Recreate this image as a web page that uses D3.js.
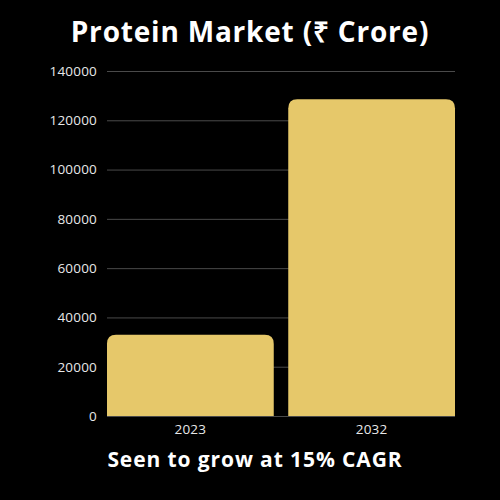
<!DOCTYPE html>
<html><head><meta charset="utf-8">
<script src="https://cdn.jsdelivr.net/npm/d3@7"></script>
<style>html,body{margin:0;padding:0;background:#000;}svg{display:block;}</style>
</head><body>
<svg id="c" width="500" height="500"></svg>
<script>
const categories = ["2023", "2032"];
const values = [33000, 128500];
const yTicks = [0, 20000, 40000, 60000, 80000, 100000, 120000, 140000];
const title = "Protein Market (₹ Crore)";
const subtitle = "Seen to grow at 15% CAGR";

const svg = d3.select("#c");
svg.append("rect").attr("width", 500).attr("height", 500).attr("fill", "#000");

const y = d3.scaleLinear().domain([0, 140000]).range([416, 71]);
const x = d3.scaleBand().domain(categories).range([107, 455]).paddingInner(0.08).paddingOuter(0);

// gridlines
svg.append("g").selectAll("line").data(yTicks).join("line")
  .attr("x1", 107).attr("x2", 455)
  .attr("y1", d => y(d) + 0.5).attr("y2", d => y(d) + 0.5)
  .attr("stroke", "#4a4a4a").attr("stroke-width", 1);

// y axis labels
const yAxis = d3.axisLeft(y).tickValues(yTicks).tickSize(0).tickPadding(0).tickFormat(d3.format("d"));
const gy = svg.append("g").attr("transform", "translate(97,0)").call(yAxis);
gy.select(".domain").remove();
gy.selectAll("text").attr("fill", "#e8e8e8").attr("font-family", "'Open Sans', sans-serif")
  .attr("font-size", 13.5).attr("font-weight", 400).attr("letter-spacing", 0.2);

// bars with rounded top corners
const r = 9;
function barPath(x0, w, yTop, yBot) {
  return `M${x0},${yBot} V${yTop + r} Q${x0},${yTop} ${x0 + r},${yTop} H${x0 + w - r} Q${x0 + w},${yTop} ${x0 + w},${yTop + r} V${yBot} Z`;
}
svg.append("g").selectAll("path").data(categories).join("path")
  .attr("d", (c, i) => barPath(x(c), x.bandwidth(), y(values[i]), y(0)))
  .attr("fill", "#e6c86a");

// x axis labels
const xAxis = d3.axisBottom(x).tickSize(0).tickPadding(8);
const gx = svg.append("g").attr("transform", "translate(0,416)").call(xAxis);
gx.select(".domain").remove();
gx.selectAll("text").attr("fill", "#e8e8e8").attr("font-family", "'Open Sans', sans-serif")
  .attr("font-size", 13.5).attr("font-weight", 400).attr("letter-spacing", 0.2);

svg.append("text").attr("x", 250).attr("y", 42).attr("text-anchor", "middle")
  .attr("fill", "#fff").attr("font-family", "'Open Sans', sans-serif").attr("font-weight", 700)
  .attr("font-size", 28).attr("letter-spacing", 0.8).text(title);

svg.append("text").attr("x", 255).attr("y", 467).attr("text-anchor", "middle")
  .attr("fill", "#fff").attr("font-family", "'Open Sans', sans-serif").attr("font-weight", 700)
  .attr("font-size", 21).attr("letter-spacing", 0.9).text(subtitle);
</script>
</body></html>
